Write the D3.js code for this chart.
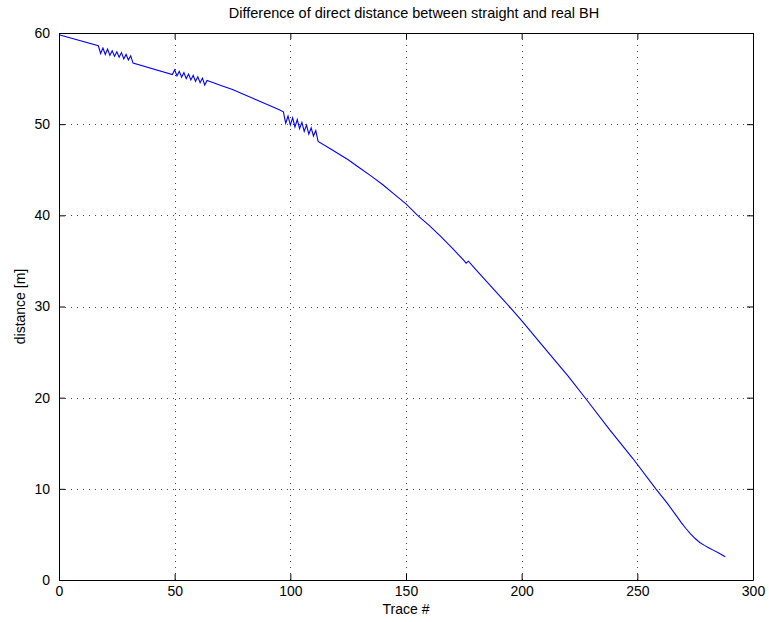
<!DOCTYPE html>
<html>
<head>
<meta charset="utf-8">
<script src="https://cdn.jsdelivr.net/npm/d3@7"></script>
<style>
  body { margin: 0; background: #fff; }
  svg { display: block; }
  text { font-family: "Liberation Sans", Arial, Helvetica, sans-serif; }
</style>
</head>
<body>
<svg id="chart" width="769" height="622"></svg>
<script>
// ---- data ----
const traces = [0, 17, 18, 19, 20, 21, 22, 23, 24, 25, 26, 27, 28, 29, 30, 31, 32,
  49, 50, 51, 52, 53, 54, 55, 56, 57, 58, 59, 60, 61, 62, 63, 64,
  65, 70, 75, 80, 85, 90, 95, 97,
  98, 99, 100, 101, 102, 103, 104, 105, 106, 107, 108, 109, 110, 111, 112,
  118, 125, 130, 135, 140, 145, 150, 155, 160, 165, 170, 175, 176, 177,
  180, 185, 190, 195, 200, 210, 220, 228, 238, 248, 258, 263, 267, 269, 271, 273, 275, 277, 279, 281, 283, 285, 288];
const distances = [59.8, 58.6, 57.75, 58.35, 57.65, 58.25, 57.55, 58.05, 57.45, 57.95, 57.35, 57.85, 57.15, 57.65, 57.05, 57.5, 56.7,
  55.45, 55.95, 55.3, 55.8, 55.15, 55.65, 55.0, 55.5, 54.85, 55.35, 54.7, 55.2, 54.55, 55.05, 54.3, 54.8,
  54.7, 54.25, 53.8, 53.25, 52.7, 52.15, 51.6, 51.35,
  50.1, 50.9, 49.9, 50.7, 49.7, 50.5, 49.5, 50.2, 49.2, 49.9, 48.9, 49.6, 48.7, 49.3, 48.1,
  47.2, 46.1, 45.2, 44.3, 43.35, 42.3, 41.25, 40.0, 38.9, 37.7, 36.4, 35.05, 34.75, 34.97,
  34.1, 32.7, 31.3, 29.9, 28.45, 25.4, 22.4, 19.8, 16.5, 13.35, 10.0, 8.4, 7.0, 6.3, 5.65, 5.05, 4.55, 4.12, 3.8, 3.52, 3.25, 2.98, 2.55];
const xTicks = [0, 50, 100, 150, 200, 250, 300];
const yTicks = [0, 10, 20, 30, 40, 50, 60];
const titleText = "Difference of direct distance between straight and real BH";
const xLabel = "Trace #";
const yLabel = "distance [m]";

// ---- layout ----
const svg = d3.select("#chart");
const L = 59, R = 753, T = 33, B = 580;
const x = d3.scaleLinear().domain([0, 300]).range([L, R]);
const y = d3.scaleLinear().domain([0, 60]).range([B, T]);

// grid
const grid = svg.append("g").attr("stroke", "#444").attr("stroke-width", 1)
  .attr("stroke-dasharray", "1,5").attr("shape-rendering", "crispEdges");
xTicks.slice(1, -1).forEach(t => {
  grid.append("line").attr("x1", Math.round(x(t)) + 0.5).attr("x2", Math.round(x(t)) + 0.5)
    .attr("y1", T).attr("y2", B);
});
yTicks.slice(1, -1).forEach(t => {
  grid.append("line").attr("y1", Math.round(y(t)) + 0.5).attr("y2", Math.round(y(t)) + 0.5)
    .attr("x1", L).attr("x2", R);
});

// axes (ticks inside, box)
const tl = 6;
const axB = svg.append("g").attr("transform", `translate(0,${B})`)
  .call(d3.axisBottom(x).tickValues(xTicks).tickSizeInner(-tl).tickSizeOuter(0).tickPadding(6));
const axT = svg.append("g").attr("transform", `translate(0,${T})`)
  .call(d3.axisTop(x).tickValues(xTicks).tickSizeInner(-tl).tickSizeOuter(0).tickFormat(""));
const axL = svg.append("g").attr("transform", `translate(${L},0)`)
  .call(d3.axisLeft(y).tickValues(yTicks).tickSizeInner(-tl).tickSizeOuter(0).tickPadding(9));
const axR = svg.append("g").attr("transform", `translate(${R},0)`)
  .call(d3.axisRight(y).tickValues(yTicks).tickSizeInner(-tl).tickSizeOuter(0).tickFormat(""));
[axB, axT, axL, axR].forEach(a => {
  a.select(".domain").attr("stroke", "#000").attr("stroke-width", 1);
  a.selectAll(".tick line").attr("stroke", "#000");
  a.selectAll("text").attr("font-size", 14).attr("fill", "#000")
    .style("font-family", "'Liberation Sans', Arial, sans-serif");
});

// line
const pts = traces.map((t, i) => [t, distances[i]]);
svg.append("path").datum(pts)
  .attr("fill", "none").attr("stroke", "#0000ff").attr("stroke-width", 1.1)
  .attr("d", d3.line().x(d => x(d[0])).y(d => y(d[1])));

// labels
svg.append("text").attr("x", (L + R) / 2 + 8).attr("y", 18).attr("text-anchor", "middle")
  .attr("font-size", 14.5).text(titleText);
svg.append("text").attr("x", (L + R) / 2).attr("y", 614).attr("text-anchor", "middle")
  .attr("font-size", 14).text(xLabel);
svg.append("text").attr("transform", `translate(25,${(T + B) / 2}) rotate(-90)`)
  .attr("text-anchor", "middle").attr("font-size", 14).text(yLabel);
</script>
</body>
</html>
